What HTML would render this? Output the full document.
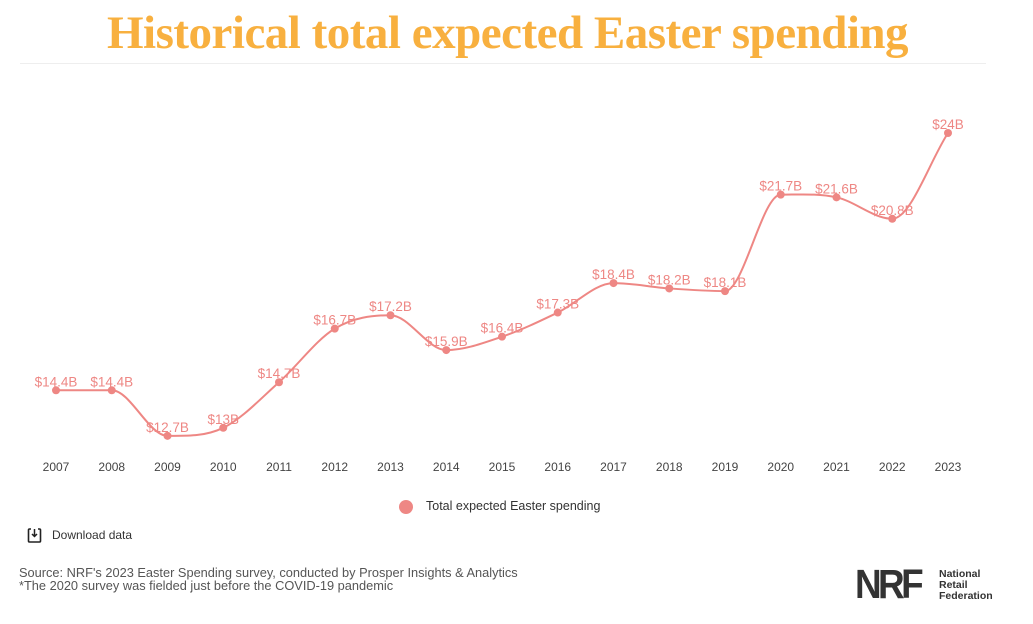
<!DOCTYPE html>
<html><head><meta charset="utf-8"><style>
body{margin:0;width:1033px;height:624px;background:#fff;overflow:hidden;font-family:"Liberation Sans",sans-serif;position:relative}
h1{position:absolute;left:0;width:1015px;top:6px;margin:0;text-align:center;font-family:"Liberation Serif",serif;font-weight:bold;font-size:47px;color:#f8b03f;letter-spacing:-0.5px}
.rule{position:absolute;left:20px;width:966px;top:63px;height:1px;background:#eee}
.t{position:absolute;font-size:12px;color:#444}
</style></head><body>
<h1>Historical total expected Easter spending</h1>
<div class="rule"></div>
<svg id="c" width="1033" height="624" style="position:absolute;left:0;top:0"></svg>
<div class="t" style="left:426px;top:499px;font-size:12.5px;color:#333">Total expected Easter spending</div>
<svg style="position:absolute;left:27px;top:527px" width="16" height="17"><rect x="1.5" y="2" width="12" height="13" fill="none" stroke="#222" stroke-width="1.6" rx="1"/><rect x="4" y="0" width="7" height="4" fill="#fff"/><path d="M7.5 2v7M5 7l2.5 2.5L10 7" stroke="#222" stroke-width="1.5" fill="none"/></svg>
<div class="t" style="left:52px;top:528px;color:#333">Download data</div>
<div class="t" style="left:19px;top:566px;color:#555;line-height:13px;font-size:12.8px">Source: NRF's 2023 Easter Spending survey, conducted by Prosper Insights &amp; Analytics<br>*The 2020 survey was fielded just before the COVID-19 pandemic</div>
<div style="position:absolute;left:855px;top:566px;font-weight:bold;font-size:41px;color:#333;letter-spacing:-4px;line-height:36px;transform:scaleX(0.9);transform-origin:left">NRF</div>
<div style="position:absolute;left:939px;top:569px;font-weight:bold;font-size:10.5px;color:#333;line-height:11px">National<br>Retail<br>Federation</div>
<script>
const v=[14.4,14.4,12.7,13,14.7,16.7,17.2,15.9,16.4,17.3,18.4,18.2,18.1,21.7,21.6,20.8,24];
const lab=["$14.4B","$14.4B","$12.7B","$13B","$14.7B","$16.7B","$17.2B","$15.9B","$16.4B","$17.3B","$18.4B","$18.2B","$18.1B","$21.7B","$21.6B","$20.8B","$24B"];
const X=i=>56+i*55.75,Y=x=>133+(24-x)*26.8;
const p=v.map((d,i)=>[X(i),Y(d)]);
const n=p.length,s=[],m=[];
for(let i=0;i<n-1;i++)s.push((p[i+1][1]-p[i][1])/(p[i+1][0]-p[i][0]));
for(let i=0;i<n;i++){if(i==0)m.push(s[0]);else if(i==n-1)m.push(s[n-2]);else m.push(s[i-1]*s[i]<=0?0:(s[i-1]+s[i])/2);}
let d=`M${p[0][0]},${p[0][1]}`;
for(let i=0;i<n-1;i++){const h=(p[i+1][0]-p[i][0])/3;d+=`C${p[i][0]+h},${p[i][1]+m[i]*h} ${p[i+1][0]-h},${p[i+1][1]-m[i+1]*h} ${p[i+1][0]},${p[i+1][1]}`;}
let h=`<path d="${d}" fill="none" stroke="#ee8784" stroke-width="2"/>`;
p.forEach((q,i)=>{h+=`<circle cx="${q[0]}" cy="${q[1]}" r="4" fill="#ee8784"/><text x="${q[0]}" y="${q[1]-4}" text-anchor="middle" font-size="13.5" fill="#ee8784" font-family="Liberation Sans">${lab[i]}</text><text x="${q[0]}" y="471" text-anchor="middle" font-size="12" fill="#444" font-family="Liberation Sans">${2007+i}</text>`;});
h+=`<circle cx="406" cy="507" r="7" fill="#ee8784"/>`;
document.getElementById('c').innerHTML=h;
</script>
</body></html>
